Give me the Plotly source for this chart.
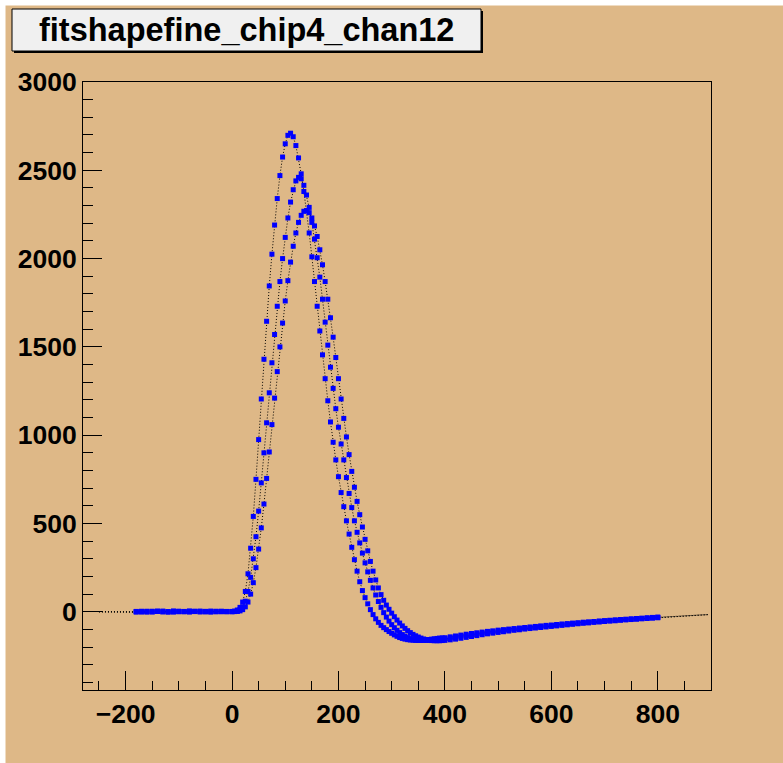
import plotly.graph_objects as go

# Sample times (ns)
t_ns = [
    -180, -170, -160, -150, -140, -130, -120, -110, -100, -90, -80, -70, -60, -50, -40, -30, -20, -10,
    0, 5, 10, 15, 20, 25, 30, 35, 40, 45, 50, 55, 60, 65, 70, 75, 80, 85, 90, 95,
    100, 105, 110, 115, 120, 125, 130, 135, 140, 145, 150, 155, 160, 165, 170, 175, 180, 185, 190, 195,
    200, 205, 210, 215, 220, 225, 230, 235, 240, 245, 250, 255, 260, 265, 270, 275, 280, 285, 290, 295,
    300, 305, 310, 315, 320, 325, 330, 335, 340, 345, 350, 355, 360, 365, 370, 375, 380, 385, 390, 395,
    400, 410, 420, 430, 440, 450, 460, 470, 480, 490, 500, 510, 520, 530, 540, 550, 560, 570, 580, 590,
    600, 610, 620, 630, 640, 650, 660, 670, 680, 690, 700, 710, 720, 730, 740, 750, 760, 770, 780, 790, 800,
]

shape_a = [
    2, -1, 3, 0, 4, 1, -2, 3, 0, 2, 5, 1, -1, 2, 4, 0, 3, 1,
    2, 4, 10, 25, 55, 115, 215, 360, 540, 750, 975, 1205, 1430, 1645, 1845, 2025, 2190, 2340, 2470, 2575,
    2650, 2698, 2710, 2690, 2640, 2570, 2480, 2380, 2270, 2145, 2010, 1870, 1730, 1590, 1455, 1320, 1195, 1075, 960, 860,
    765, 675, 595, 515, 440, 365, 295, 230, 170, 120, 80, 45, 12, -16, -40, -60, -77, -90, -101, -112,
    -122, -131, -139, -146, -151, -155, -158, -160, -161, -162, -162, -161, -160, -159, -157, -155, -153, -151, -149, -148,
    -147, -142, -137, -132, -127, -123, -119, -115, -111, -108, -104, -101, -98, -95, -92, -89, -86, -83, -80, -77,
    -75, -72, -69, -67, -64, -62, -59, -57, -55, -52, -50, -48, -46, -44, -42, -40, -38, -36, -34, -32, -30,
]

shape_b = [
    -2, 3, 1, -1, 2, 4, 0, -2, 3, 1, 0, 2, 4, -1, 1, 3, 2, 0,
    1, 2, 5, 12, 28, 60, 115, 195, 300, 425, 570, 730, 900, 1070, 1240, 1410, 1570, 1730, 1870, 2000,
    2120, 2230, 2320, 2390, 2440, 2460, 2452, 2415, 2360, 2290, 2205, 2110, 2005, 1895, 1770, 1640, 1510, 1385, 1265, 1150,
    1045, 950, 860, 760, 670, 590, 515, 450, 390, 332, 277, 226, 178, 135, 95, 58, 25, -5, -30, -53,
    -73, -90, -105, -118, -129, -138, -146, -152, -156, -159, -161, -162, -162, -162, -161, -160, -159, -158, -156, -155,
    -153, -149, -144, -139, -134, -129, -125, -121, -117, -113, -109, -106, -102, -99, -96, -93, -90, -87, -84, -81,
    -78, -75, -73, -70, -67, -65, -62, -60, -57, -55, -53, -50, -48, -46, -44, -42, -40, -38, -36, -34, -32,
]

shape_c = [
    1, 0, -2, 3, 2, -1, 1, 4, 2, 0, -1, 3, 1, 2, -2, 1, 0, 2,
    0, 1, 2, 5, 12, 28, 55, 100, 165, 250, 355, 475, 610, 755, 905, 1060, 1210, 1360, 1500, 1635,
    1760, 1875, 1980, 2070, 2145, 2205, 2245, 2268, 2272, 2260, 2230, 2185, 2125, 2050, 1965, 1870, 1770, 1665, 1555, 1440,
    1320, 1205, 1095, 990, 890, 795, 705, 625, 550, 480, 410, 345, 285, 230, 180, 135, 97, 65, 38, 14,
    -8, -28, -47, -64, -80, -94, -107, -118, -128, -136, -143, -149, -154, -158, -161, -163, -164, -164, -164, -163,
    -162, -159, -155, -150, -145, -140, -135, -130, -125, -121, -117, -113, -109, -105, -102, -98, -95, -92, -89, -86,
    -83, -80, -77, -74, -71, -68, -65, -63, -60, -58, -55, -53, -51, -48, -46, -44, -42, -40, -38, -36, -34,
]

# Fitted curves run past the sampled window on both sides
fit_lead_x = [-250, -220, -190]
fit_lead_y = [0, 0, 0]
fit_tail_x = [820, 850, 880, 895]
fit_tail_y = [-28, -23, -18, -16]

title_text = "fitshapefine_chip4_chan12"

BG = "#deb887"
FONT = "Liberation Sans, Arial, sans-serif"

fig = go.Figure()

for ys in (shape_a, shape_b, shape_c):
    fig.add_trace(go.Scatter(
        x=fit_lead_x + t_ns + fit_tail_x,
        y=fit_lead_y + ys + fit_tail_y,
        mode="lines",
        line=dict(color="black", width=1, dash="1px,2px"),
        hoverinfo="skip",
        showlegend=False,
    ))

for ys in (shape_a, shape_b, shape_c):
    fig.add_trace(go.Scatter(
        x=t_ns, y=ys,
        mode="markers",
        marker=dict(symbol="square", size=5, color="#0000ff", line=dict(width=0)),
        showlegend=False,
    ))

# page geometry in pixels
W, H = 783, 763
ML, MR, MT, MB = 83, 72, 82, 73
PW, PH = W - ML - MR, H - MT - MB


def px(x):
    return (x - ML) / PW


def py(y):
    return (H - MB - y) / PH


shapes = [
    # white canvas edges
    dict(type="rect", xref="paper", yref="paper", x0=px(0), x1=px(W), y0=py(5.5), y1=py(0),
         fillcolor="white", line=dict(width=0), layer="below"),
    dict(type="rect", xref="paper", yref="paper", x0=px(0), x1=px(5.5), y0=py(H), y1=py(0),
         fillcolor="white", line=dict(width=0), layer="below"),
    # title pave shadow and box
    dict(type="rect", xref="paper", yref="paper", x0=px(14), x1=px(483), y0=py(53), y1=py(11),
         fillcolor="black", line=dict(width=0)),
    dict(type="rect", xref="paper", yref="paper", x0=px(12), x1=px(481), y0=py(51), y1=py(9),
         fillcolor="#f0f0f0", line=dict(color="black", width=1)),
]

fig.update_layout(
    width=W, height=H,
    margin=dict(l=ML, r=MR, t=MT, b=MB),
    paper_bgcolor=BG,
    plot_bgcolor=BG,
    shapes=shapes,
    annotations=[dict(
        text=title_text, xref="paper", yref="paper", x=px(246), y=py(30),
        xanchor="center", yanchor="middle", showarrow=False,
        font=dict(family=FONT, size=32.5, color="black", weight="bold"),
    )],
)

axis_common = dict(
    showgrid=False, zeroline=False,
    showline=True, linecolor="black", linewidth=1, mirror=True,
    ticks="inside", tickcolor="black", tickwidth=1, ticklen=19,
    tickfont=dict(family=FONT, size=26.5, color="black", weight="bold"),
)

fig.update_xaxes(
    range=[-280, 900], tickmode="linear", tick0=-200, dtick=200,
    minor=dict(ticks="inside", ticklen=9, tickcolor="black", tickwidth=1, dtick=50, tick0=0),
    **axis_common,
)
fig.update_yaxes(
    range=[-443, 3000], tickmode="linear", tick0=0, dtick=500,
    minor=dict(ticks="inside", ticklen=10, tickcolor="black", tickwidth=1, dtick=100, tick0=0),
    **axis_common,
)

fig.write_html("out.html")
